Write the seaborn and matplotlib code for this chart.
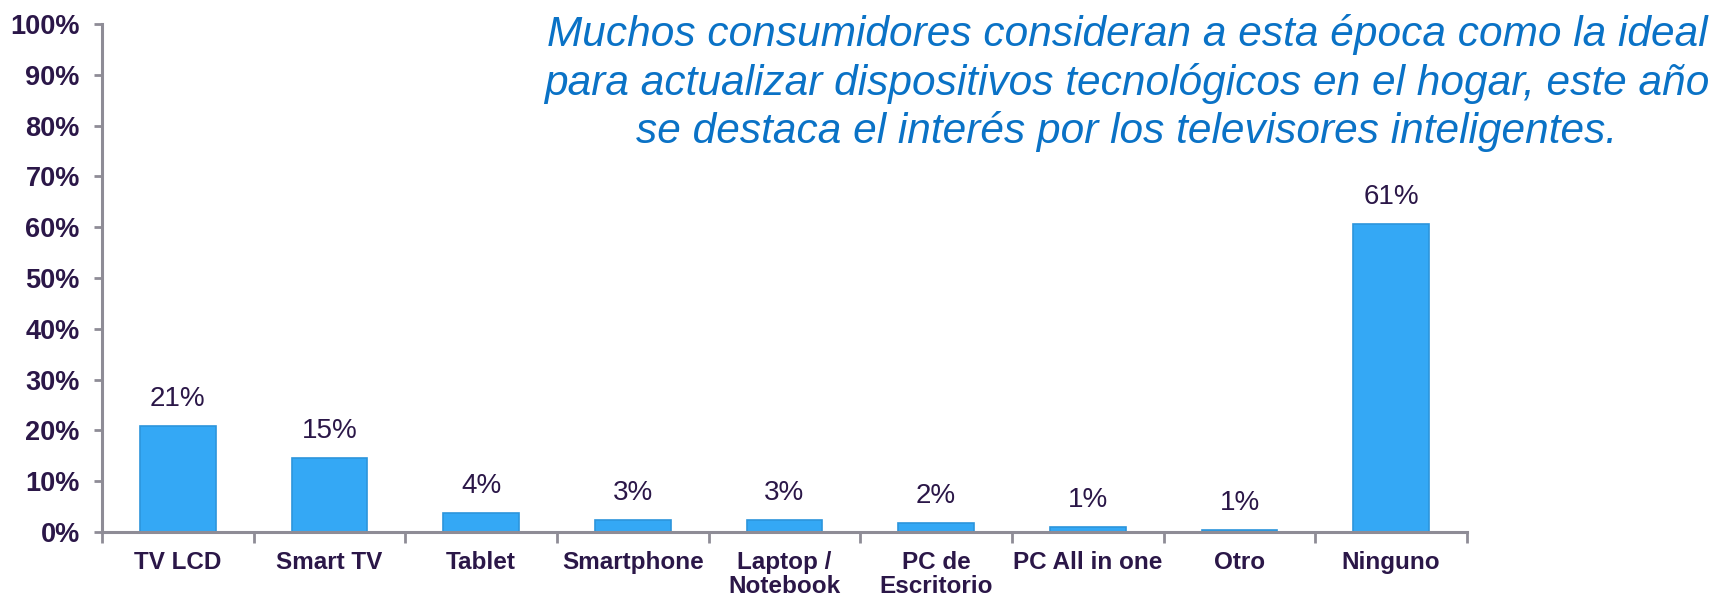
import matplotlib
matplotlib.use("Agg")
import matplotlib.pyplot as plt
import seaborn as sns
import numpy as np

categories = ["TV LCD", "Smart TV", "Tablet", "Smartphone", "Laptop /\nNotebook",
              "PC de\nEscritorio", "PC All in one", "Otro", "Ninguno"]
values = [20.8, 14.6, 3.8, 2.4, 2.4, 1.7, 0.9, 0.3, 60.6]
value_labels = ["21%", "15%", "4%", "3%", "3%", "2%", "1%", "1%", "61%"]
y_ticks = [0, 10, 20, 30, 40, 50, 60, 70, 80, 90, 100]
y_tick_labels = [f"{t}%" for t in y_ticks]
title_text = ("Muchos consumidores consideran a esta época como la ideal\n"
              "para actualizar dispositivos tecnológicos en el hogar, este año\n"
              "se destaca el interés por los televisores inteligentes.")

sns.set_style("white")
plt.rcParams["font.family"] = ["Liberation Sans", "DejaVu Sans"]

TEXT = "#2B1748"
AXIS = "#8E8C96"
BAR = "#34A8F5"

fig = plt.figure(figsize=(17.17, 5.97), dpi=100)
ax = fig.add_axes([102 / 1717, 65 / 597, (1467 - 102) / 1717, (532 - 24) / 597])

sns.barplot(x=categories, y=values, color=BAR, width=0.5, ax=ax,
            edgecolor="#2C95DC", linewidth=1.2, saturation=1)

ax.set_xlim(-0.5, len(categories) - 0.5)
ax.set_ylim(0, 100)
ax.set_yticks(y_ticks)
ax.set_yticklabels(y_tick_labels, fontsize=19.5, fontweight="bold", color=TEXT)
ax.tick_params(axis="y", length=6, width=2, color=AXIS, pad=10, direction="out", left=True)

ax.set_xticks(range(len(categories)))
ax.set_xticklabels(categories, fontsize=17.5, fontweight="bold", color=TEXT, linespacing=1.05, va="top")
ax.tick_params(axis="x", which="major", length=0, pad=13.5)
ax.set_xticks(np.arange(-0.5, len(categories), 1.0), minor=True)
ax.tick_params(axis="x", which="minor", length=8, width=2, color=AXIS, direction="out", bottom=True)

for s in ["top", "right"]:
    ax.spines[s].set_visible(False)
for s in ["left", "bottom"]:
    ax.spines[s].set_color(AXIS)
    ax.spines[s].set_linewidth(2.2)

ax.set_xlabel("")
ax.set_ylabel("")

for i, (v, lab) in enumerate(zip(values, value_labels)):
    ax.annotate(lab, xy=(i, v), xytext=(0, 19.5), textcoords="offset points",
                ha="center", va="center", fontsize=20, color=TEXT)

fig.text(1127 / 1717, 1 - 83 / 597, title_text, ha="center", va="center",
         fontsize=30.5, style="italic", color="#0A72C6", linespacing=1.22)

fig.savefig("out.png", dpi=100, facecolor="white")
